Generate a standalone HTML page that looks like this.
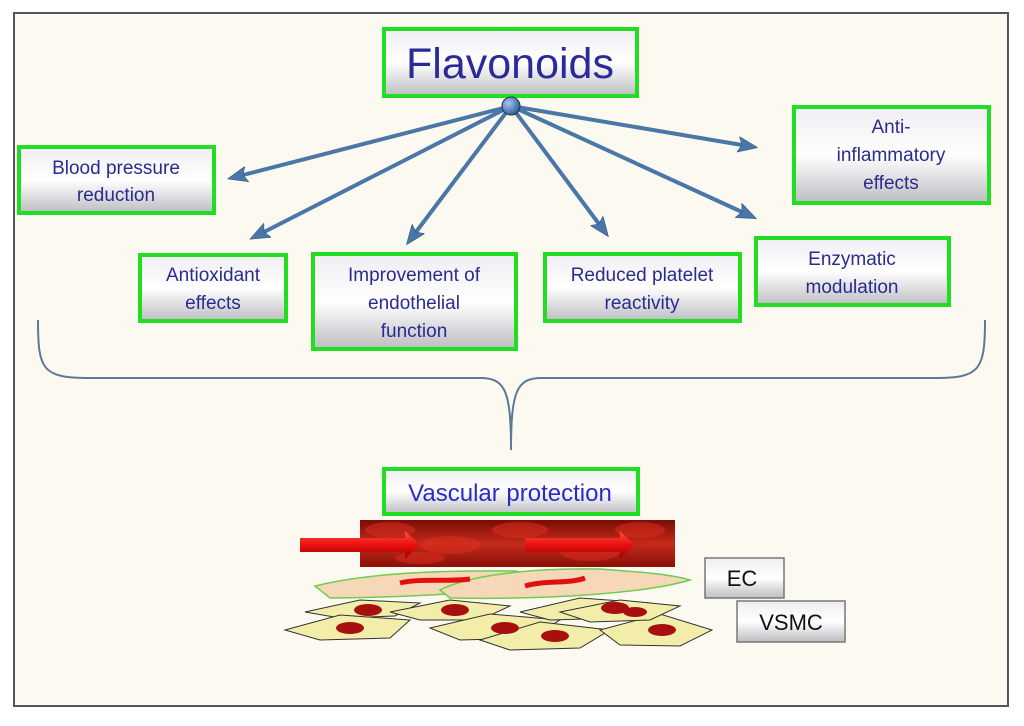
<!DOCTYPE html>
<html><head><style>
body{margin:0;background:#fff;}
svg text{font-family:"Liberation Sans",sans-serif;}
</style></head><body>
<svg width="1024" height="721" viewBox="0 0 1024 721" xmlns="http://www.w3.org/2000/svg">
<defs>
<linearGradient id="g" x1="0" y1="0" x2="0" y2="1">
<stop offset="0" stop-color="#eeeef2"/><stop offset="0.5" stop-color="#ffffff"/><stop offset="1" stop-color="#bdbdc2"/>
</linearGradient>
<linearGradient id="blood" x1="0" y1="0" x2="0" y2="1">
<stop offset="0" stop-color="#7a0c06"/><stop offset="0.5" stop-color="#c42a1a"/><stop offset="1" stop-color="#8a1008"/>
</linearGradient>
<linearGradient id="arr" x1="0" y1="0" x2="0" y2="1">
<stop offset="0" stop-color="#ff5040"/><stop offset="0.5" stop-color="#e81010"/><stop offset="1" stop-color="#a00000"/>
</linearGradient>
<radialGradient id="hub" cx="0.35" cy="0.35" r="0.7"><stop offset="0" stop-color="#a8c8f0"/><stop offset="1" stop-color="#2a5a9a"/></radialGradient>
<marker id="ah" markerWidth="20" markerHeight="16" refX="4" refY="8" orient="auto" markerUnits="userSpaceOnUse">
<path d="M0,0 L20,8 L0,16 L4,8 z" fill="#4a76a8" stroke="#2d4f7a" stroke-width="0.5"/></marker>
</defs>
<rect x="14" y="13" width="994" height="693" fill="#fcfaf0" stroke="#555" stroke-width="2"/>

<g stroke="#4a76a8" stroke-width="4" fill="none" marker-end="url(#ah)">
<line x1="511" y1="106" x2="243" y2="175"/>
<line x1="511" y1="106" x2="264" y2="232"/>
<line x1="511" y1="106" x2="416" y2="232"/>
<line x1="511" y1="106" x2="599" y2="224"/>
<line x1="511" y1="106" x2="742" y2="212"/>
<line x1="511" y1="106" x2="742" y2="145"/>
</g>

<g stroke="#22dd22" stroke-width="4" fill="url(#g)">
<rect x="384" y="29" width="253" height="67"/>
<rect x="19" y="147" width="195" height="66"/>
<rect x="794" y="107" width="195" height="96"/>
<rect x="140" y="255" width="146" height="66"/>
<rect x="313" y="254" width="203" height="95"/>
<rect x="545" y="254" width="195" height="67"/>
<rect x="756" y="238" width="193" height="67"/>
<rect x="384" y="469" width="254" height="45"/>
</g>
<circle cx="511" cy="106" r="9" fill="url(#hub)" stroke="#234" stroke-width="1"/>

<g fill="#2b2b8f" font-size="19" text-anchor="middle">
<text x="510" y="78" font-size="43" fill="#2a2a9a">Flavonoids</text>
<text x="116" y="174">Blood pressure</text><text x="116" y="201">reduction</text>
<text x="891" y="133">Anti-</text><text x="891" y="161">inflammatory</text><text x="891" y="189">effects</text>
<text x="213" y="281">Antioxidant</text><text x="213" y="309">effects</text>
<text x="414" y="281">Improvement of</text><text x="414" y="309">endothelial</text><text x="414" y="337">function</text>
<text x="642" y="281">Reduced platelet</text><text x="642" y="309">reactivity</text>
<text x="852" y="265">Enzymatic</text><text x="852" y="293">modulation</text>
<text x="510" y="501" font-size="24" fill="#2a2acc">Vascular protection</text>
</g>

<path d="M38,320 C38,370 42,378 90,378 L480,378 C505,378 511,390 511,450 C511,390 517,378 542,378 L935,378 C980,378 985,370 985,320" fill="none" stroke="#5a7a96" stroke-width="2"/>

<rect x="360" y="520" width="315" height="47" fill="url(#blood)"/>
<g fill="#e03020" opacity="0.5">
<ellipse cx="390" cy="530" rx="25" ry="8"/><ellipse cx="450" cy="545" rx="30" ry="9"/><ellipse cx="520" cy="530" rx="28" ry="8"/>
<ellipse cx="590" cy="552" rx="30" ry="9"/><ellipse cx="640" cy="530" rx="25" ry="8"/><ellipse cx="420" cy="558" rx="25" ry="6"/>
</g>
<path d="M300,538 L405,538 L405,531 L420,545 L405,559 L405,552 L300,552 z" fill="url(#arr)"/>
<path d="M525,538 L620,538 L620,531 L635,545 L620,559 L620,552 L525,552 z" fill="url(#arr)"/>

<g fill="#f2eeaa" stroke="#333" stroke-width="1">
<path d="M305,612 L360,600 L420,603 L395,616 L340,618 z"/>
<path d="M285,630 L340,615 L410,620 L390,638 L320,640 z"/>
<path d="M390,612 L450,600 L510,606 L480,620 L420,620 z"/>
<path d="M430,628 L490,614 L560,620 L530,638 L460,640 z"/>
<path d="M520,612 L580,598 L650,603 L620,618 L550,620 z"/>
<path d="M480,640 L540,622 L610,630 L580,648 L510,650 z"/>
<path d="M600,630 L660,614 L712,630 L680,646 L620,645 z"/>
<path d="M560,612 L620,600 L680,606 L650,620 L590,622 z"/>
</g>
<g fill="#a81010">
<ellipse cx="368" cy="610" rx="14" ry="6"/><ellipse cx="350" cy="628" rx="14" ry="6"/><ellipse cx="455" cy="610" rx="14" ry="6"/>
<ellipse cx="505" cy="628" rx="14" ry="6"/><ellipse cx="615" cy="608" rx="14" ry="6"/><ellipse cx="555" cy="636" rx="14" ry="6"/>
<ellipse cx="662" cy="630" rx="14" ry="6"/><ellipse cx="635" cy="612" rx="12" ry="5"/>
</g>
<g fill="#f6d8b8" stroke="#6ecc50" stroke-width="1.5">
<path d="M315,586 C360,575 420,570 515,571 L560,578 C520,592 420,597 330,598 z"/>
<path d="M440,590 C470,575 530,568 600,569 C640,572 670,574 690,580 C650,592 560,600 450,598 z"/>
</g>
<path d="M400,583 C420,578 450,582 470,579" stroke="#e01010" stroke-width="5" fill="none"/>
<path d="M525,586 C545,580 570,584 585,578" stroke="#e01010" stroke-width="5" fill="none"/>

<g stroke="#777" stroke-width="1.5" fill="url(#g)">
<rect x="705" y="558" width="79" height="40"/>
<rect x="737" y="601" width="108" height="41"/>
</g>
<g font-size="22" text-anchor="middle" fill="#111">
<text x="742" y="586">EC</text><text x="791" y="630">VSMC</text>
</g>
</svg>
</body></html>
